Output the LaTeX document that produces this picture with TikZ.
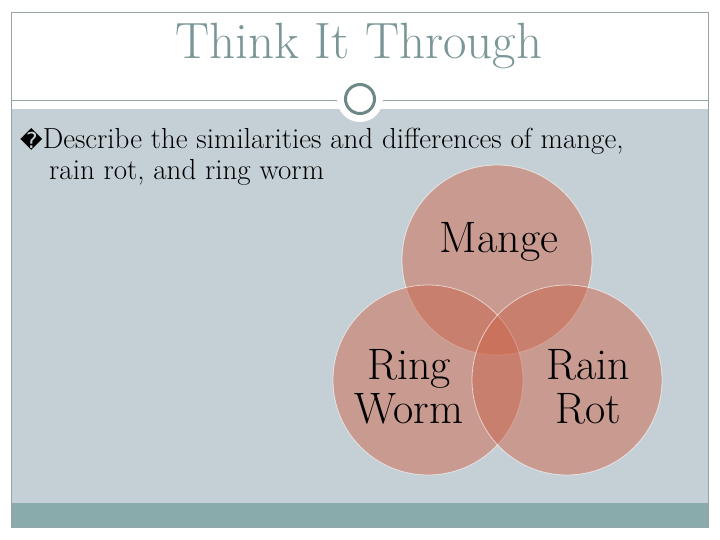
\documentclass[tikz,border=0pt]{standalone}
\usepackage{fontspec}
\newfontfamily\dejavu{DejaVu Sans}
\definecolor{bodybg}{RGB}{197,208,214}
\definecolor{barc}{RGB}{138,171,171}
\definecolor{framec}{RGB}{150,165,165}
\definecolor{titlec}{RGB}{122,150,150}
\definecolor{vennc}{RGB}{203,102,76}
\begin{document}
\begin{tikzpicture}[x=1pt,y=-1pt,
  venn/.style={circle,minimum size=190pt,fill=vennc,fill opacity=0.5,draw=white,draw opacity=0.6,line width=0.8pt},
  lbl/.style={font=\fontsize{44}{44}\selectfont,align=center,text=black,inner sep=0}]
\useasboundingbox (0,0) rectangle (720,540);
\fill[white] (0,0) rectangle (720,540);
\fill[bodybg] (11,109) rectangle (708,503);
\fill[barc] (11,503) rectangle (708,527);
\draw[framec,line width=0.6pt] (11,12) rectangle (708,527);
\draw[framec,line width=0.8pt] (11,100) -- (708,100);
\node[circle,fill=white,minimum size=46pt,inner sep=0] (ring) at (360,99) {};
\node[circle,draw=titlec!90!black,line width=3pt,fill=white,minimum size=29pt,inner sep=0] (dot) at (360,99) {};
\node[text=titlec,font=\fontsize{51}{52}\selectfont] (title) at (359,46) {Think It Through};
\node[anchor=north west,align=left,font=\fontsize{29}{31}\selectfont,inner sep=0] (bullet) at (20,128)
  {{\dejavu\fontsize{22}{24}\selectfont\char"FFFD}Describe the similarities and differences of mange,\\\hspace*{29pt}rain rot, and ring worm};
\node[venn] (m) at (497,260) {};
\node[venn] (rw) at (428,380) {};
\node[venn] (rr) at (567,380) {};
\node[lbl] (ml) at (499,242) {Mange};
\node[lbl] (rwl) at (409,387) {Ring\\Worm};
\node[lbl] (rrl) at (588,387) {Rain\\Rot};
\end{tikzpicture}
\end{document}
